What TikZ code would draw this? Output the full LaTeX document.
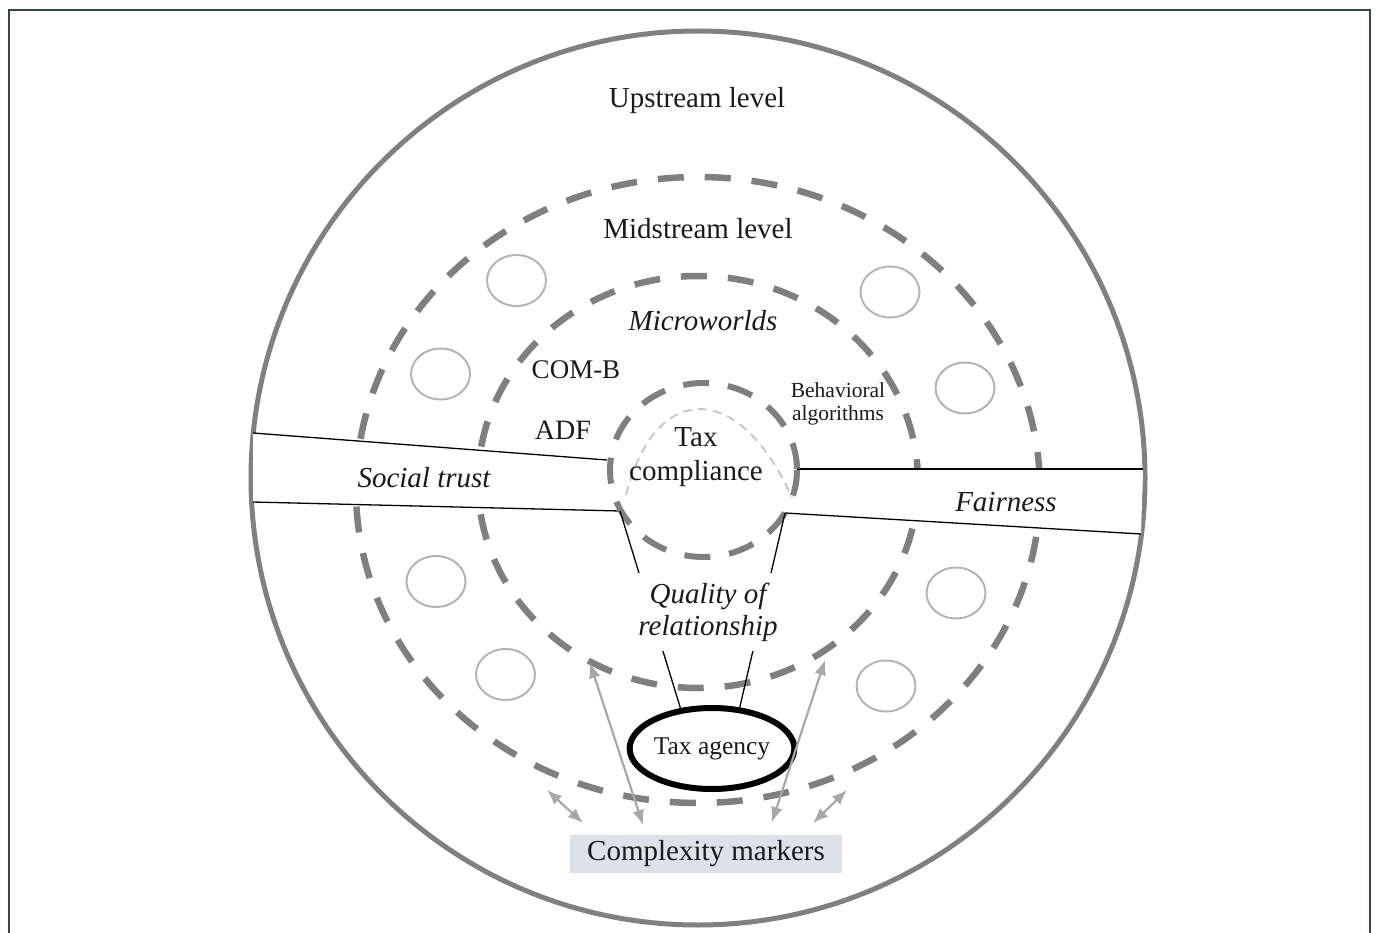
\documentclass[tikz,border=0pt]{standalone}
\usepackage{fontspec}
\setmainfont{Liberation Serif}
\usetikzlibrary{arrows.meta,shapes.geometric}
\definecolor{ringgray}{HTML}{7F7F7F}
\definecolor{outergray}{HTML}{808080}
\definecolor{ellgray}{HTML}{B4B4B4}
\definecolor{archgray}{HTML}{C8C8C8}
\definecolor{arrgray}{HTML}{A8A8A8}
\definecolor{boxfill}{HTML}{DCE2EA}
\definecolor{framegreen}{HTML}{2E4A40}
\definecolor{txt}{HTML}{1A1A1A}
\begin{document}
\begin{tikzpicture}[x=1pt,y=-1pt,
  lbl/.style={font=\fontsize{29}{35}\selectfont, text=txt, inner sep=0pt, align=center},
  itlbl/.style={font=\fontsize{29}{32}\selectfont\itshape, text=txt, inner sep=0pt, align=center},
  ring/.style={draw=ringgray, line width=6.5pt, dash pattern=on 26pt off 21pt},
  smallring/.style={draw=ellgray, line width=2pt},
  bandline/.style={draw=black, line width=1.3pt},
  twoarrow/.style={draw=arrgray, line width=2.2pt, arrows={Latex[length=15pt,width=12pt]-Latex[length=15pt,width=12pt]}}
]
\useasboundingbox (0,0) rectangle (1376,933);
% frame
\draw[framegreen, line width=2pt] (9,945) -- (9,10) -- (1370,10) -- (1370,945);
% outer circle
\draw[draw=outergray, line width=5pt] (698,478) circle [radius=447];
% dashed rings
\draw[ring] (698,490) ellipse [x radius=342, y radius=313];
\draw[ring] (698,482) ellipse [x radius=220, y radius=206];
% small ellipses
\draw[smallring] (516.5,280.5) ellipse [x radius=29.5, y radius=25.5];
\draw[smallring] (440.5,374) ellipse [x radius=29.5, y radius=25.5];
\draw[smallring] (436,581.5) ellipse [x radius=29.5, y radius=25.5];
\draw[smallring] (505.5,674.5) ellipse [x radius=29.5, y radius=25.5];
\draw[smallring] (890,292) ellipse [x radius=29.5, y radius=25.5];
\draw[smallring] (965,388) ellipse [x radius=29.5, y radius=25.5];
\draw[smallring] (956,593) ellipse [x radius=29.5, y radius=25.5];
\draw[smallring] (886,686) ellipse [x radius=29.5, y radius=25.5];
% band coordinates
\coordinate (stA) at (253,433);
\coordinate (stB) at (607,460);
\coordinate (stC) at (620,511);
\coordinate (stD) at (253,502);
\coordinate (faA) at (797,469);
\coordinate (faB) at (1143,469);
\coordinate (faC) at (1141,534);
\coordinate (faD) at (785,513);
\fill[white] (stA) -- (stB) -- (stC) -- (stD) -- cycle;
\fill[white] (faA) -- (faB) -- (faC) -- (faD) -- cycle;
\draw[bandline] (stA) -- (stB);
\draw[bandline] (stD) -- (stC);
\draw[bandline] (faA) -- (faB);
\draw[bandline] (faD) -- (faC);
% centre circle and arch
\draw[ring, line width=6pt, dash pattern=on 26pt off 19pt] (703.5,470) ellipse [x radius=93.5, y radius=87];
\draw[draw=archgray, line width=2pt, dash pattern=on 9pt off 6pt] (626,495) .. controls (655,380) and (740,380) .. (792,498);
% tax agency
\node[draw=black, line width=6pt, ellipse, minimum width=146pt, minimum height=81pt, inner sep=0pt, fill=white, font=\fontsize{25.5}{30}\selectfont, text=txt] (ta) at (712,748.5) {Tax agency};
\draw[bandline] (stC) -- (ta.128);
\draw[bandline] (faD) -- (ta.56);
% quality of relationship
\node[itlbl, fill=white, inner xsep=14pt, inner ysep=10pt] (qr) at (708,612) {Quality of\\relationship};
% texts
\node[lbl] (up) at (697,101) {Upstream level};
\node[lbl] (mid) at (698,229) {Midstream level};
\node[itlbl] (micro) at (703,321) {Microworlds};
\node[lbl, font=\fontsize{27}{32}\selectfont] (comb) at (576,370) {COM-B};
\node[lbl, font=\fontsize{28}{32}\selectfont] (adf) at (563,430) {ADF};
\node[lbl, font=\fontsize{21.5}{23}\selectfont] (beh) at (838,404) {Behavioral\\algorithms};
\node[lbl, font=\fontsize{29}{34}\selectfont] (tc) at (696,457) {Tax\\compliance};
\node[itlbl] (st) at (424,478) {Social trust};
\node[itlbl] (fa) at (1006,502) {Fairness};
% complexity markers
\node[fill=boxfill, minimum width=272pt, minimum height=38pt, inner sep=0pt, font=\fontsize{29}{34}\selectfont, text=txt] (cm) at (706,853.5) {Complexity markers};
\coordinate (a1s) at (547,790);
\coordinate (a1e) at (583,823);
\coordinate (a2s) at (590,663);
\coordinate (a2e) at (643,825);
\coordinate (a3s) at (825,660);
\coordinate (a3e) at (772,822);
\coordinate (a4s) at (847,790);
\coordinate (a4e) at (813,823);
\draw[twoarrow] (a1s) -- (a1e);
\draw[twoarrow] (a2s) -- (a2e);
\draw[twoarrow] (a3s) -- (a3e);
\draw[twoarrow] (a4s) -- (a4e);
\end{tikzpicture}
\end{document}
